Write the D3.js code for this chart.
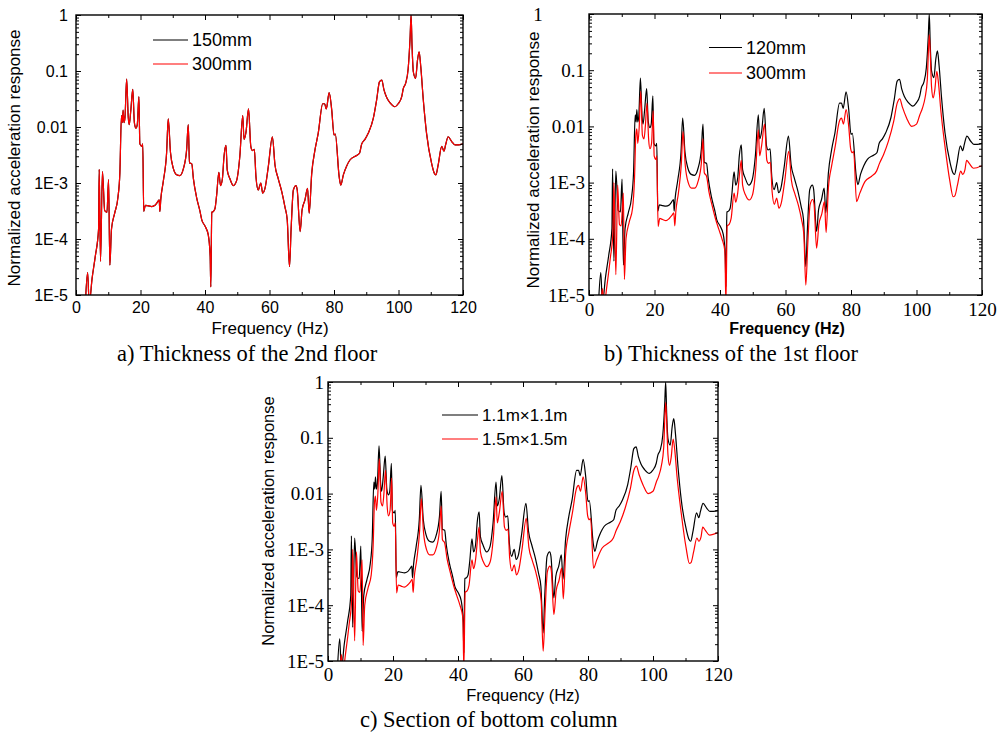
<!DOCTYPE html>
<html>
<head>
<meta charset="utf-8">
<script src="https://cdn.jsdelivr.net/npm/d3@7"></script>
<style>
  body { margin: 0; background: #fff; }
</style>
</head>
<body>
<script>
// axis ticks
const xMajor = [0, 20, 40, 60, 80, 100, 120];
const xMinor = [10, 30, 50, 70, 90, 110];
const yMajor = [1, 0.1, 0.01, 1e-3, 1e-4, 1e-5];
const yLabels = ["1", "0.1", "0.01", "1E-3", "1E-4", "1E-5"];

// reference model (black curve) [Hz, normalized response]
const baseCurve = [
  [2.9, 7e-6], [3.6, 2.5e-5], [4.1, 7e-6], [5.0, 2.0e-5], [6.0, 5.0e-5], [7.0, 1.5e-4],
  [7.2, 1.75e-3], [7.6, 4e-5], [8.2, 1.6e-3], [8.9, 3.2e-4], [9.6, 3.0e-4], [10.1, 1.15e-3],
  [10.5, 3.4e-5], [11.0, 1.5e-4], [12.0, 2.9e-4], [13.0, 5.5e-4], [13.6, 1.5e-3], [14.1, 0.016],
  [14.4, 0.012], [14.6, 0.02], [14.9, 0.012], [15.2, 0.015], [15.7, 0.072], [16.2, 0.015],
  [16.5, 0.011], [17.0, 0.02], [17.6, 0.047], [18.1, 0.012], [18.6, 0.0095], [19.0, 0.011],
  [19.5, 0.035], [19.8, 0.005], [20.4, 0.0045], [20.7, 0.005], [21.0, 3.1e-4], [21.5, 4.0e-4],
  [22.5, 3.9e-4], [23.5, 3.8e-4], [24.5, 4.0e-4], [25.2, 4.5e-4], [25.8, 5.0e-4], [26.0, 3.1e-4],
  [26.3, 5.2e-4], [27.1, 1.1e-3], [28.1, 3.5e-3], [28.6, 0.014], [29.3, 3.5e-3], [30.2, 1.8e-3],
  [31.2, 1.4e-3], [32.2, 1.35e-3], [33.3, 1.8e-3], [34.3, 3.9e-3], [34.8, 0.011], [35.2, 2.3e-3],
  [35.9, 2.2e-3], [36.4, 1.2e-3], [37.4, 5.5e-4], [38.4, 3.2e-4], [39.0, 2.2e-4], [40.0, 1.7e-4],
  [41.0, 1.2e-4], [41.6, 5e-5], [41.8, 1.4e-5], [42.1, 3.0e-4], [42.6, 3.1e-4], [43.1, 3.5e-4],
  [43.6, 6.0e-4], [44.3, 1.55e-3], [44.8, 9e-4], [45.4, 1.2e-3], [45.9, 3.0e-3], [46.5, 4.7e-3],
  [46.9, 1.7e-3], [47.7, 1.2e-3], [48.8, 9.0e-4], [49.8, 1.1e-3], [50.8, 3.0e-3], [51.7, 0.016],
  [52.1, 6e-3], [52.7, 8e-3], [53.5, 0.021], [54.2, 4.5e-3], [54.7, 3.8e-3], [55.3, 4.0e-3],
  [55.8, 1.3e-3], [56.5, 7.5e-4], [57.3, 1.0e-3], [57.9, 6.6e-4], [58.6, 8e-4], [59.6, 1.9e-3],
  [60.9, 6.7e-3], [61.7, 2.1e-3], [62.7, 1.2e-3], [63.8, 7e-4], [64.8, 3.7e-4], [65.5, 2.2e-4],
  [66.2, 3.2e-5], [66.7, 1.5e-4], [67.4, 7.5e-4], [68.2, 9e-4], [68.6, 7.5e-4], [69.5, 1.35e-4],
  [70.1, 3.3e-4], [71.0, 5.0e-4], [71.8, 8e-4], [72.3, 2.9e-4], [73.1, 1.5e-3], [74.1, 3.9e-3],
  [75.1, 7.7e-3], [76.5, 0.026], [77.1, 0.026], [77.6, 0.021], [78.5, 0.041], [79.3, 0.02],
  [80.0, 7.2e-3], [80.4, 7.5e-3], [81.6, 1.3e-3], [82.1, 9.2e-4], [82.9, 1.4e-3], [83.9, 2.0e-3],
  [85.0, 2.6e-3], [87.0, 3.1e-3], [87.9, 3.4e-3], [88.6, 5e-3], [89.6, 6e-3], [90.6, 7.7e-3],
  [92.2, 0.0144], [93.2, 0.03], [94.1, 0.064], [94.8, 0.069], [95.5, 0.046], [96.3, 0.034],
  [97.4, 0.027], [98.9, 0.023], [99.9, 0.026], [101.0, 0.035], [101.5, 0.049], [102.2, 0.06],
  [103.0, 0.11], [103.6, 0.4], [103.9, 1.0], [104.2, 0.28], [104.6, 0.097], [105.3, 0.074],
  [105.9, 0.158], [106.4, 0.22], [106.9, 0.12], [107.7, 0.03], [108.7, 7.7e-3], [110.3, 2.2e-3],
  [111.1, 1.5e-3], [111.6, 1.4e-3], [112.3, 2.1e-3], [113.4, 4.5e-3], [114.1, 3.7e-3], [114.6, 4.8e-3],
  [115.4, 6.7e-3], [116.5, 5.5e-3], [117.5, 4.8e-3], [118.6, 4.8e-3], [120, 5e-3]
];

// stiffer model (red curve in b and c)
const stiffCurve = [
  [3.7, 7e-6], [4.1, 1.3e-5], [4.6, 7e-6], [5.5, 1.5e-5], [6.5, 4.5e-5], [7.3, 1.3e-4],
  [7.6, 1.0e-3], [8.2, 2.3e-5], [8.75, 9e-4], [9.3, 1.8e-4], [9.8, 1.7e-4], [10.5, 6.5e-4],
  [10.8, 1.9e-5], [11.3, 1.0e-4], [12.3, 2.0e-4], [13.3, 3.5e-4], [13.9, 1.2e-3], [14.3, 7e-3],
  [14.6, 9e-3], [14.9, 5e-3], [15.3, 9e-3], [15.8, 0.042], [16.3, 7e-3], [16.8, 6e-3],
  [17.2, 0.01], [17.7, 0.026], [18.2, 6e-3], [18.6, 4e-3], [19.1, 5e-3], [19.6, 0.019],
  [19.9, 3e-3], [20.4, 2.6e-3], [20.7, 3e-3], [21.1, 1.66e-4], [21.6, 2.3e-4], [22.5, 2.2e-4],
  [23.5, 2.1e-4], [24.5, 2.3e-4], [25.3, 2.6e-4], [25.9, 2.9e-4], [26.2, 1.7e-4], [26.5, 3e-4],
  [27.3, 6.5e-4], [28.2, 2.2e-3], [28.7, 8.1e-3], [29.4, 2e-3], [30.3, 1.0e-3], [31.3, 8e-4],
  [32.3, 8e-4], [33.3, 1.05e-3], [34.3, 2.2e-3], [34.8, 6.0e-3], [35.2, 1.5e-3], [35.9, 1.3e-3],
  [36.6, 7e-4], [37.6, 3.9e-4], [38.6, 2.3e-4], [39.6, 1.5e-4], [40.6, 1.0e-4], [41.5, 6e-5],
  [41.8, 7e-6], [42.2, 1.7e-4], [42.8, 1.8e-4], [43.4, 2.3e-4], [44.3, 6.5e-4], [44.8, 4.5e-4],
  [45.4, 6.5e-4], [46.0, 1.5e-3], [46.5, 2.5e-3], [46.9, 9e-4], [47.8, 6e-4], [48.9, 4.9e-4],
  [49.9, 6e-4], [50.9, 1.7e-3], [51.7, 8.7e-3], [52.1, 3e-3], [52.7, 4.5e-3], [53.6, 0.011],
  [54.3, 2.5e-3], [54.8, 2.2e-3], [55.4, 2.3e-3], [55.9, 7e-4], [56.6, 4.1e-4], [57.3, 5.3e-4],
  [58.0, 3.5e-4], [58.7, 4.3e-4], [59.7, 1.0e-3], [61.0, 3.6e-3], [61.8, 1.1e-3], [62.8, 6.5e-4],
  [63.9, 4e-4], [64.9, 2.2e-4], [65.6, 1.2e-4], [66.2, 1.5e-5], [66.8, 8e-5], [67.5, 4.0e-4],
  [68.3, 5e-4], [68.7, 4.2e-4], [69.5, 6.8e-5], [70.2, 1.8e-4], [71.1, 2.8e-4], [71.9, 4.6e-4],
  [72.4, 1.3e-4], [73.1, 8e-4], [74.1, 2.0e-3], [75.2, 4.5e-3], [76.4, 0.012], [77.1, 0.014],
  [77.7, 0.011], [78.5, 0.02], [79.3, 0.01], [79.9, 4e-3], [80.4, 3.4e-3], [80.8, 3.6e-3],
  [81.7, 4.6e-4], [82.7, 6.5e-4], [84.3, 1.05e-3], [86.3, 1.3e-3], [87.8, 1.6e-3], [88.7, 2.2e-3],
  [89.9, 3.1e-3], [91.4, 5.4e-3], [93.0, 0.012], [94.1, 0.026], [94.9, 0.031], [95.7, 0.022],
  [97.0, 0.014], [98.5, 0.010], [100.0, 0.011], [101.0, 0.016], [101.8, 0.021], [102.6, 0.032],
  [103.3, 0.068], [103.9, 0.43], [104.2, 0.2], [104.6, 0.05], [105.1, 0.032], [105.6, 0.045],
  [106.2, 0.095], [106.7, 0.06], [107.4, 0.02], [108.7, 4.4e-3], [110.2, 1.05e-3], [111.2, 5.6e-4],
  [111.7, 5.8e-4], [112.5, 9e-4], [113.5, 1.6e-3], [114.1, 1.4e-3], [114.8, 1.7e-3], [115.3, 2.5e-3],
  [116.1, 2.2e-3], [117.4, 1.8e-3], [120, 2e-3]
];

// in panel a the two thicknesses give the same curve
const panelSeries = {
  a: [{ name: "150mm", data: baseCurve, color: "#000" }, { name: "300mm", data: baseCurve, color: "#ff0000" }],
  b: [{ name: "120mm", data: baseCurve, color: "#000" }, { name: "300mm", data: stiffCurve, color: "#ff0000" }],
  c: [{ name: "1.1m\u00d71.1m", data: baseCurve, color: "#000" }, { name: "1.5m\u00d71.5m", data: stiffCurve, color: "#ff0000" }]
};

const captions = {
  a: "a) Thickness of the 2nd floor",
  b: "b) Thickness of the 1st floor",
  c: "c) Section of bottom column"
};

const SANS = "'Liberation Sans', Arial, sans-serif";
const SERIF = "'Liberation Serif', 'Times New Roman', serif";

const svg = d3.select("body").append("svg")
  .attr("width", 1002)
  .attr("height", 734)
  .style("display", "block");

const panels = [
  {
    id: "a", x0: 76, x1: 463, y0: 15, y1: 295,
    tickFont: SANS, tickSize: 16, yPad: 8, xPad: 7,
    yTitle: { x: 14, y: 158, size: 17 },
    xTitle: { x: 270, y: 334, size: 17, weight: "normal" },
    legend: { x: 153, w: 35, y: 40, gap: 24, size: 18 },
    caption: { x: 117, y: 361 }
  },
  {
    id: "b", x0: 589, x1: 982, y0: 14, y1: 295,
    tickFont: SERIF, tickSize: 19, yPad: 4, xPad: 8,
    yTitle: { x: 533, y: 160, size: 17 },
    xTitle: { x: 787, y: 334, size: 16, weight: "bold" },
    legend: { x: 709, w: 33, y: 47.5, gap: 25.5, size: 18 },
    caption: { x: 604, y: 361 },
    topLabelX: -51
  },
  {
    id: "c", x0: 328, x1: 718, y0: 382, y1: 661,
    tickFont: SERIF, tickSize: 19, yPad: 4, xPad: 7,
    yTitle: { x: 268, y: 521, size: 16.5 },
    xTitle: { x: 523, y: 701, size: 16.5, weight: "normal" },
    legend: { x: 442, w: 36, y: 415, gap: 24, size: 17 },
    caption: { x: 360, y: 727 }
  }
];

panels.forEach(drawPanel);

function drawPanel(p) {
  const g = svg.append("g");
  const x = d3.scaleLinear().domain([0, 120]).range([p.x0, p.x1]);
  const y = d3.scaleLog().domain([1e-5, 1]).range([p.y1, p.y0]);

  const yMinor = [];
  yMajor.forEach((d) => {
    if (d < 1) for (let k = 2; k <= 9; k++) yMinor.push(d * k);
  });

  g.append("clipPath").attr("id", "clip-" + p.id)
    .append("rect")
    .attr("x", p.x0).attr("y", p.y0)
    .attr("width", p.x1 - p.x0).attr("height", p.y1 - p.y0);

  const line = d3.line()
    .x((d) => x(d[0]))
    .y((d) => y(d[1]))
    .curve(d3.curveMonotoneX);

  const plot = g.append("g").attr("clip-path", "url(#clip-" + p.id + ")");
  panelSeries[p.id].forEach((s) => {
    plot.append("path")
      .datum(s.data)
      .attr("d", line)
      .attr("fill", "none")
      .attr("stroke", s.color)
      .attr("stroke-width", 1.2)
      .attr("stroke-linejoin", "round");
  });

  // bottom axis with labels, inward ticks
  const xb = g.append("g")
    .attr("transform", "translate(0," + p.y1 + ")")
    .call(d3.axisBottom(x).tickValues(xMajor).tickSize(-5).tickPadding(p.xPad).tickFormat(d3.format("d")));
  xb.append("g").call(d3.axisBottom(x).tickValues(xMinor).tickSize(-3).tickFormat(""));
  // top axis, ticks only
  const xt = g.append("g")
    .attr("transform", "translate(0," + p.y0 + ")")
    .call(d3.axisTop(x).tickValues(xMajor).tickSize(-5).tickFormat(""));
  xt.append("g").call(d3.axisTop(x).tickValues(xMinor).tickSize(-3).tickFormat(""));

  const yl = g.append("g")
    .attr("transform", "translate(" + p.x0 + ",0)")
    .call(d3.axisLeft(y).tickValues(yMajor).tickSize(-5).tickPadding(p.yPad).tickFormat((d, i) => yLabels[i]));
  yl.append("g").call(d3.axisLeft(y).tickValues(yMinor).tickSize(-3).tickFormat(""));
  const yr = g.append("g")
    .attr("transform", "translate(" + p.x1 + ",0)")
    .call(d3.axisRight(y).tickValues(yMajor).tickSize(-5).tickFormat(""));
  yr.append("g").call(d3.axisRight(y).tickValues(yMinor).tickSize(-3).tickFormat(""));

  [xb, xt, yl, yr].forEach((a) => {
    a.selectAll(".domain").remove();
    a.selectAll("line").attr("stroke", "#000").attr("stroke-width", 1);
    a.attr("font-family", p.tickFont).attr("font-size", p.tickSize);
    a.selectAll("text").attr("fill", "#000");
  });

  if (p.topLabelX !== undefined) {
    yl.selectAll(".tick text").filter((d) => d === 1)
      .attr("x", p.topLabelX).attr("text-anchor", "middle");
  }

  g.append("rect")
    .attr("x", p.x0).attr("y", p.y0)
    .attr("width", p.x1 - p.x0).attr("height", p.y1 - p.y0)
    .attr("fill", "none")
    .attr("stroke", "#000")
    .attr("stroke-width", 1.4);

  // axis titles
  g.append("text")
    .attr("transform", "translate(" + p.yTitle.x + "," + p.yTitle.y + ") rotate(-90)")
    .attr("text-anchor", "middle")
    .attr("dy", "0.35em")
    .attr("font-family", SANS)
    .attr("font-size", p.yTitle.size)
    .text("Normalized acceleration response");

  g.append("text")
    .attr("x", p.xTitle.x)
    .attr("y", p.xTitle.y)
    .attr("text-anchor", "middle")
    .attr("font-family", SANS)
    .attr("font-size", p.xTitle.size)
    .attr("font-weight", p.xTitle.weight)
    .text("Frequency (Hz)");

  // legend
  const lg = g.append("g");
  panelSeries[p.id].forEach((s, i) => {
    const ly = p.legend.y + i * p.legend.gap;
    lg.append("line")
      .attr("x1", p.legend.x).attr("x2", p.legend.x + p.legend.w)
      .attr("y1", ly).attr("y2", ly)
      .attr("stroke", s.color)
      .attr("stroke-width", 1.2);
    lg.append("text")
      .attr("x", p.legend.x + p.legend.w + 4)
      .attr("y", ly)
      .attr("dy", "0.35em")
      .attr("font-family", SANS)
      .attr("font-size", p.legend.size)
      .text(s.name);
  });

  g.append("text")
    .attr("x", p.caption.x)
    .attr("y", p.caption.y)
    .attr("font-family", SERIF)
    .attr("font-size", 22.5)
    .text(captions[p.id]);
}
</script>
</body>
</html>
